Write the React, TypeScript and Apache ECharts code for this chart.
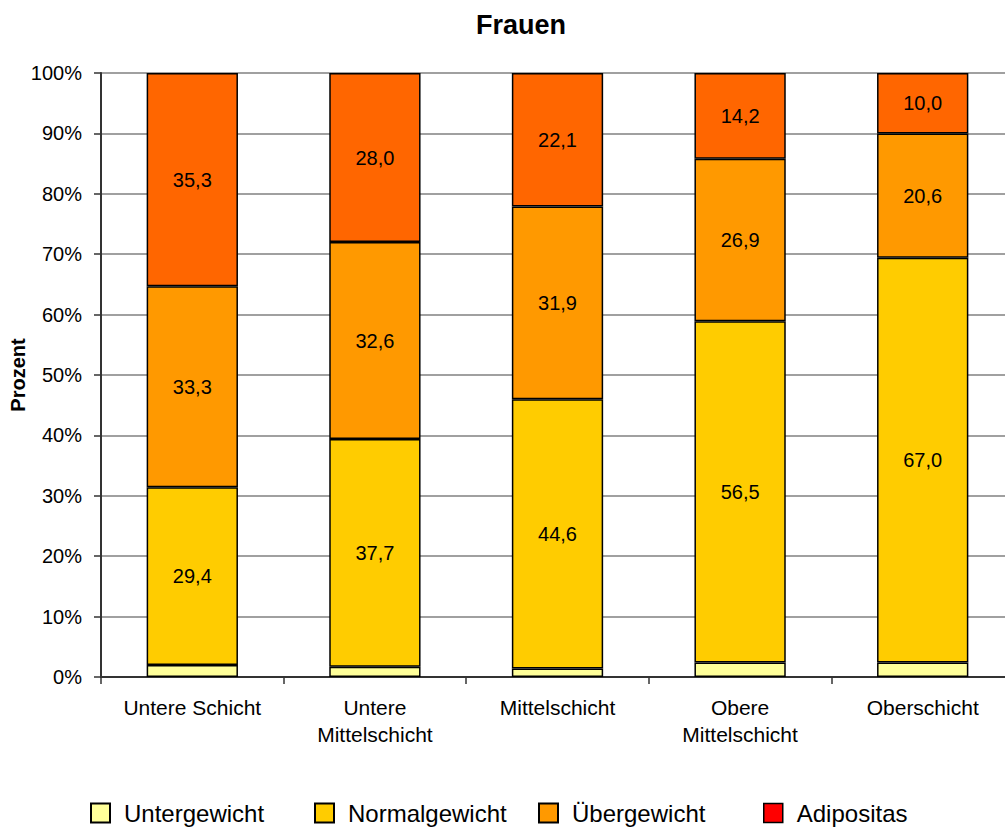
import React, { useEffect, useRef } from "react";
import * as echarts from "echarts";

const categories = ["Untere Schicht", "Untere\nMittelschicht", "Mittelschicht", "Obere\nMittelschicht", "Oberschicht"];
const untergewicht = [2.0, 1.7, 1.4, 2.4, 2.4];
const normalgewicht = [29.4, 37.7, 44.6, 56.5, 67.0];
const uebergewicht = [33.3, 32.6, 31.9, 26.9, 20.6];
const adipositas = [35.3, 28.0, 22.1, 14.2, 10.0];
const yTicks = [0, 10, 20, 30, 40, 50, 60, 70, 80, 90, 100];
const yAxisTitle = "Prozent";

const FONT = "'Liberation Sans', Arial, sans-serif";

export default function App() {
  const ref = useRef<HTMLDivElement>(null);
  useEffect(() => {
    document.body.style.margin = "0";
    const chart = echarts.init(ref.current!, undefined, { renderer: "svg" });
    const fmt = (p: any) => Number(p.value).toFixed(1).replace(".", ",");
    const label = {
      show: true,
      position: "inside" as const,
      color: "#000",
      fontSize: 20,
      fontFamily: FONT,
      formatter: fmt,
    };
    const border = { borderColor: "#000", borderWidth: 1.5 };
    const mkSeries = (name: string, data: number[], color: string, showLabel: boolean) => ({
      name,
      type: "bar",
      stack: "total",
      data,
      barWidth: "50%",
      itemStyle: { color, ...border },
      label: showLabel ? label : { show: false },
      emphasis: { disabled: true },
    });
    const legendBase = (name: string, left: number, color?: string) => ({
      left,
      top: 801,
      padding: 0,
      itemWidth: 19,
      itemHeight: 19,
      icon: "rect",
      selectedMode: false,
      textStyle: { fontSize: 24, fontFamily: FONT, color: "#000", padding: [0, 0, 0, 9] },
      data: [color ? { name, itemStyle: { color, borderColor: "#000", borderWidth: 1.5 } } : name],
    });
    chart.setOption({
      animation: false,
      textStyle: { fontFamily: FONT },
      title: {
        text: "Frauen",
        left: 476,
        top: 11,
        padding: 0,
        textStyle: { fontSize: 27, fontWeight: "bold", fontFamily: FONT, color: "#000" },
      },
      graphic: [
        {
          type: "text",
          x: 18,
          y: 375,
          rotation: Math.PI / 2,
          style: {
            text: yAxisTitle,
            fontSize: 20,
            fontWeight: "bold",
            fontFamily: FONT,
            fill: "#000",
            textAlign: "center",
            textVerticalAlign: "middle",
          },
        },
      ],
      legend: [
        legendBase("Untergewicht", 90),
        legendBase("Normalgewicht", 314),
        legendBase("Übergewicht", 538),
        legendBase("Adipositas", 763, "#FF0000"),
      ],
      grid: { left: 101, right: 0, top: 73, bottom: 151, containLabel: false, outerBoundsMode: "none" },
      xAxis: {
        type: "category",
        data: categories,
        axisLine: { lineStyle: { color: "#333", width: 2 } },
        axisTick: { show: true, length: 7, lineStyle: { color: "#333", width: 1.5 } },
        axisLabel: {
          interval: 0,
          fontSize: 21,
          lineHeight: 27,
          margin: 17,
          color: "#000",
          fontFamily: FONT,
        },
      },
      yAxis: {
        type: "value",
        min: yTicks[0],
        max: yTicks[yTicks.length - 1],
        interval: 10,
        axisLine: { show: true, lineStyle: { color: "#333", width: 2 } },
        axisTick: { show: true, length: 7, lineStyle: { color: "#333", width: 1.5 } },
        axisLabel: {
          formatter: "{value}%",
          fontSize: 20,
          margin: 19,
          color: "#000",
          fontFamily: FONT,
        },
        splitLine: { show: true, lineStyle: { color: "#808080", width: 1.5 } },
      },
      series: [
        mkSeries("Untergewicht", untergewicht, "#FFFF99", false),
        mkSeries("Normalgewicht", normalgewicht, "#FFCC00", true),
        mkSeries("Übergewicht", uebergewicht, "#FF9900", true),
        mkSeries("Adipositas", adipositas, "#FF6600", true),
      ],
    });
    return () => chart.dispose();
  }, []);
  return (
    <div style={{ width: 1005, height: 828, overflow: "hidden", background: "#fff" }}>
      <div ref={ref} style={{ width: 1014, height: 828 }} />
    </div>
  );
}
